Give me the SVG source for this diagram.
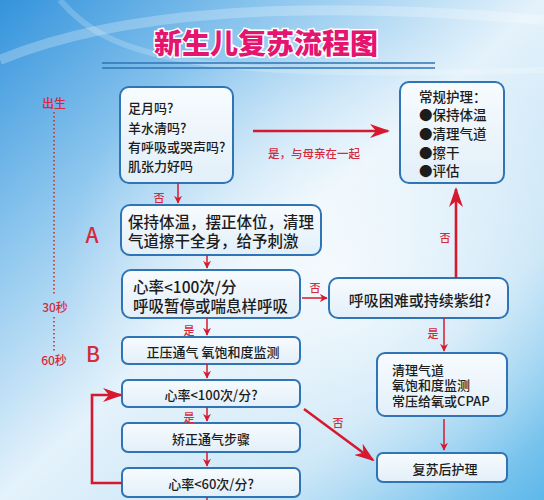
<svg xmlns="http://www.w3.org/2000/svg" width="544" height="500" viewBox="0 0 544 500">
<defs>
<linearGradient id="bg" x1="0" y1="0" x2="1" y2="1">
<stop offset="0" stop-color="#3493dc"/>
<stop offset="0.25" stop-color="#8cc6ee"/>
<stop offset="0.5" stop-color="#e4f2fb"/>
<stop offset="0.75" stop-color="#c4e3f6"/>
<stop offset="1" stop-color="#5db8ea"/>
</linearGradient>
<radialGradient id="glow" cx="0.62" cy="0.55" r="0.5">
<stop offset="0" stop-color="#ffffff" stop-opacity="0.7"/>
<stop offset="1" stop-color="#ffffff" stop-opacity="0"/>
</radialGradient>
<linearGradient id="box" x1="0" y1="0" x2="0" y2="1">
<stop offset="0" stop-color="#f7fbfe"/>
<stop offset="1" stop-color="#e2eff9"/>
</linearGradient>
<marker id="ah" viewBox="0 0 10 10" refX="9" refY="5" markerWidth="8" markerHeight="8" markerUnits="userSpaceOnUse" orient="auto">
<path d="M0,0 L10,5 L0,10 L3,5 Z" fill="#d7192f"/>
</marker>
<marker id="ahL" viewBox="0 0 10 10" refX="9" refY="5" markerWidth="20" markerHeight="14" markerUnits="userSpaceOnUse" orient="auto" preserveAspectRatio="none">
<path d="M0,0 L10,5 L0,10 L3,5 Z" fill="#d7192f"/>
</marker>
</defs>
<style>
.node rect{fill:url(#box);stroke:#2f74b5;stroke-width:2}
.t{font-family:"Noto Sans CJK SC","Noto Sans",sans-serif;font-weight:500;fill:#1c1c1c;dominant-baseline:central}
.r{font-family:"Noto Sans CJK SC","Noto Sans",sans-serif;font-weight:500;fill:#d42a3a;dominant-baseline:central}
.c{text-anchor:middle}
.e line,.e polyline{stroke:#d7192f;fill:none}
.s{stroke-width:1.5;marker-end:url(#ah)}
.L{stroke-width:2.6;marker-end:url(#ahL)}
</style>
<rect width="544" height="500" fill="url(#bg)"/>
<rect width="544" height="500" fill="url(#glow)"/>
<path d="M0,60 C120,10 300,0 544,20" stroke="#ffffff" stroke-opacity="0.25" stroke-width="10" fill="none"/>
<path d="M60,0 C110,60 200,80 544,70" stroke="#ffffff" stroke-opacity="0.2" stroke-width="6" fill="none"/>

<g id="title">
<text x="266" y="42" class="c" font-family="'Noto Sans CJK SC',sans-serif" font-weight="900" font-size="28" fill="#e5156f" stroke="#ffffff" stroke-width="3" paint-order="stroke" dominant-baseline="central">新生儿复苏流程图</text>
<line x1="102" y1="63" x2="435" y2="63" stroke="#2f74b5" stroke-width="1.5"/>
<line x1="102" y1="68" x2="435" y2="68" stroke="#2f74b5" stroke-width="1.5"/>
</g>

<g id="timeline">
<text x="54" y="102" class="r c" font-size="12">出生</text>
<line x1="54" y1="112" x2="54" y2="295" stroke="#c0392b" stroke-width="1.6" stroke-dasharray="1.6 2.4"/>
<text x="55" y="306" class="r c" font-size="12">30秒</text>
<line x1="54" y1="317" x2="54" y2="351" stroke="#c0392b" stroke-width="1.6" stroke-dasharray="1.6 2.4"/>
<text x="54" y="359" class="r c" font-size="12">60秒</text>
<text x="92" y="234" class="r c" font-size="21" font-weight="400">A</text>
<text x="93" y="353" class="r c" font-size="21" font-weight="400">B</text>
</g>

<g id="n1" class="node">
<rect x="120" y="87" width="113" height="96" rx="9"/>
<text class="t" font-size="13"><tspan x="128" y="107">足月吗?</tspan><tspan x="128" y="127">羊水清吗?</tspan><tspan x="128" y="146">有呼吸或哭声吗?</tspan><tspan x="128" y="165">肌张力好吗</tspan></text>
</g>
<g id="n2" class="node">
<rect x="400" y="82" width="104" height="101" rx="9"/>
<text class="t" font-size="13.5"><tspan x="419" y="96">常规护理：</tspan><tspan x="419" y="114">●保持体温</tspan><tspan x="419" y="133">●清理气道</tspan><tspan x="419" y="152">●擦干</tspan><tspan x="419" y="170">●评估</tspan></text>
</g>
<g id="n3" class="node">
<rect x="121" y="205" width="200" height="50" rx="9"/>
<text class="t" font-size="15.5"><tspan x="128" y="221">保持体温，摆正体位，清理</tspan><tspan x="128" y="240">气道擦干全身，给予刺激</tspan></text>
</g>
<g id="n4" class="node">
<rect x="122" y="270" width="178" height="48" rx="9"/>
<text class="t" font-size="15.5"><tspan x="133" y="286">心率&lt;100次/分</tspan><tspan x="133" y="305">呼吸暂停或喘息样呼吸</tspan></text>
</g>
<g id="n5" class="node">
<rect x="329" y="278" width="179" height="40" rx="9"/>
<text class="t c" font-size="15" x="420" y="299">呼吸困难或持续紫绀?</text>
</g>
<g id="n6" class="node">
<rect x="122" y="337" width="178" height="27" rx="6"/>
<text class="t c" font-size="13" x="213" y="351">正压通气  氧饱和度监测</text>
</g>
<g id="n7" class="node">
<rect x="377" y="353" width="130" height="63" rx="8"/>
<text class="t" font-size="13"><tspan x="392" y="369">清理气道</tspan><tspan x="392" y="384">氧饱和度监测</tspan><tspan x="392" y="400">常压给氧或CPAP</tspan></text>
</g>
<g id="n8" class="node">
<rect x="122" y="380" width="178" height="27" rx="6"/>
<text class="t c" font-size="13" x="211" y="394">心率&lt;100次/分?</text>
</g>
<g id="n9" class="node">
<rect x="122" y="423" width="178" height="29" rx="6"/>
<text class="t c" font-size="13" x="211" y="438">矫正通气步骤</text>
</g>
<g id="n10" class="node">
<rect x="377" y="453" width="130" height="29" rx="6"/>
<text class="t c" font-size="13" x="445" y="468">复苏后护理</text>
</g>
<g id="n11" class="node">
<rect x="122" y="468" width="178" height="29" rx="6"/>
<text class="t c" font-size="13" x="211" y="483">心率&lt;60次/分?</text>
</g>

<g id="edges" class="e">
<line class="s" x1="178" y1="183" x2="178" y2="203"/>
<text class="r c" font-size="11" x="159" y="197">否</text>
<line class="L" x1="253" y1="131" x2="388" y2="131"/>
<text class="r" font-size="11.5" x="268" y="153">是，与母亲在一起</text>
<line class="s" x1="207" y1="255" x2="207" y2="268"/>
<line class="s" x1="302" y1="298" x2="327" y2="298" stroke-width="2"/>
<text class="r c" font-size="11" x="315" y="287">否</text>
<line class="L" x1="456" y1="278" x2="456" y2="189" stroke-width="2.4"/>
<text class="r c" font-size="11" x="445" y="237">否</text>
<line class="s" x1="207" y1="318" x2="207" y2="335"/>
<text class="r c" font-size="11" x="189" y="330">是</text>
<line class="s" x1="444" y1="318" x2="444" y2="351"/>
<text class="r c" font-size="11" x="433" y="333">是</text>
<line class="s" x1="207" y1="364" x2="207" y2="378"/>
<line class="s" x1="207" y1="407" x2="207" y2="421"/>
<text class="r c" font-size="11" x="189" y="417">是</text>
<line class="s" x1="207" y1="452" x2="207" y2="466"/>
<line x1="207" y1="497" x2="207" y2="500" stroke-width="1.5"/>
<line class="s" x1="444" y1="419" x2="444" y2="450"/>
<line class="L" x1="304" y1="409" x2="373" y2="460"/>
<text class="r c" font-size="11" x="338" y="422">否</text>
<polyline class="L" points="122,483 92,483 92,395 121,395"/>
</g>
</svg>
